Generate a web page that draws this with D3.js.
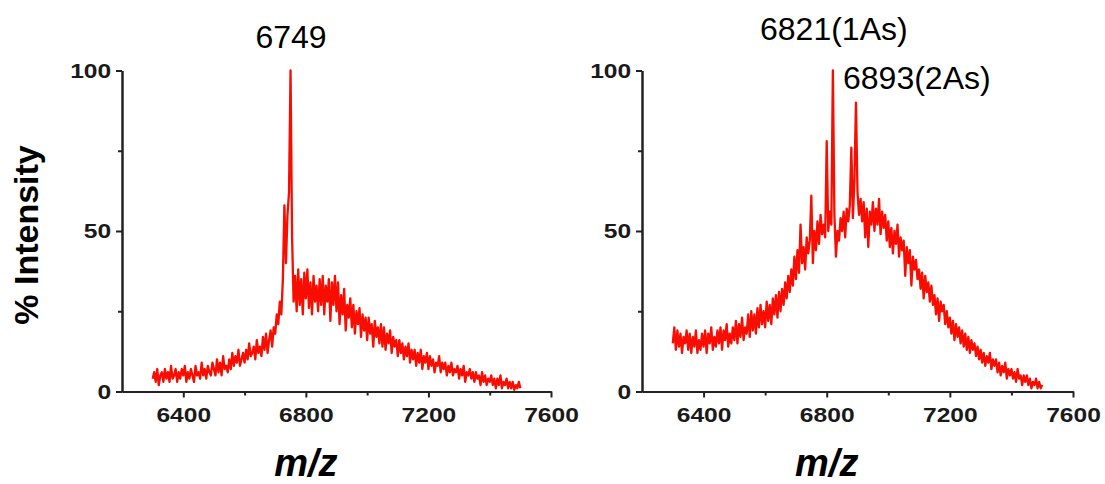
<!DOCTYPE html>
<html><head><meta charset="utf-8">
<script src="https://cdn.jsdelivr.net/npm/d3@7"></script>
<style>
body{margin:0;background:#fff;}
svg{display:block;}
.tick text{font-family:"Liberation Sans",Arial,sans-serif;font-weight:bold;font-size:20.5px;fill:#1a1a1a;}
</style></head>
<body>
<svg id="chart" width="1105" height="484"></svg>
<script>
// m/z grid: 6300..7500 step 5
const mzStart = 6300, mzEnd = 7500, mzStep = 5;
const mz = d3.range(mzStart, mzEnd + 1, mzStep);

// Left spectrum (% intensity)
const leftIntensity = [
 4,6,3,7,2,5,6,3,7,4,
 6,3,8,4,5,7,3,6,4,7,
 5,8,3,6,4,7,5,3,8,5,
 6,4,9,5,7,4,8,6,5,9,
 7,5,10,6,9,5,11,7,8,6,
 10,7,12,8,11,9,13,8,10,12,
 9,13,10,15,11,12,14,10,16,12,
 14,11,17,13,18,12,16,19,14,20,
 18,24,21,28,24,35,58,40,55,62,
 100,48,28,36,25,38,27,35,24,37,
 29,38,26,34,24,36,28,33,25,35,
 27,36,24,33,28,35,22,34,27,36,
 25,34,21,30,24,32,19,27,23,29,
 20,27,18,25,21,26,17,24,19,23,
 16,23,18,21,14,22,17,20,15,21,
 14,20,13,18,15,19,12,17,14,16,
 11,16,12,15,10,14,11,15,9,13,
 10,13,8,12,9,13,7,11,9,12,
 7,11,8,10,6,9,8,11,6,9,
 7,9,5,8,6,9,5,7,6,8,
 4,7,5,8,3,6,5,7,4,6,
 3,6,4,5,2,6,3,5,2,4,
 3,5,2,4,1,4,2,5,1,3,
 2,4,1,3,1,3,0.5,2,1,3,
 1
];

// Right spectrum (% intensity)
const rightIntensity = [
 15,20,13,19,14,18,12,17,15,19,
 13,18,12,17,14,19,12,16,13,18,
 14,19,12,18,15,20,13,17,14,19,
 15,20,13,19,16,21,14,18,15,20,
 16,22,15,21,17,23,16,20,18,24,
 17,25,19,24,18,26,20,27,21,25,
 20,28,22,27,21,29,24,30,23,31,
 25,32,27,34,29,36,31,38,33,42,
 35,44,37,52,40,45,38,48,43,47,
 61,40,50,44,53,46,55,49,52,48,
 78,50,56,52,100,55,42,50,47,54,
 50,56,48,57,53,58,76,54,66,90,
 62,55,60,53,59,48,57,45,56,52,
 59,50,57,52,60,49,56,51,55,47,
 53,45,51,43,50,46,52,42,48,44,
 47,36,45,40,44,33,42,38,41,35,
 38,32,37,29,36,31,34,28,33,27,
 30,24,29,22,28,25,27,21,25,20,
 23,18,22,16,21,17,20,15,19,14,
 18,13,17,12,16,13,15,11,14,10,
 13,9,12,8,11,9,12,7,10,8,
 10,6,9,5,8,6,9,4,7,5,
 7,4,6,3,7,4,5,2,5,3,
 5,2,4,1,3,2,4,1,3,1,
 2
];

const xMajorTicks = [6400, 6800, 7200, 7600];
const xMinorTicks = [6600, 7000, 7400];
const yMajorTicks = [0, 50, 100];
const yMinorTicks = [25, 75];

const peakLabels = [
  {panel: 0, text: "6749", x: 291, y: 48, anchor: "middle"},
  {panel: 1, text: "6821(1As)", x: 760, y: 40, anchor: "start"},
  {panel: 1, text: "6893(2As)", x: 843, y: 89, anchor: "start"}
];

const svg = d3.select("#chart");

const panels = [
  {data: leftIntensity, x0: 122, x1: 551},
  {data: rightIntensity, x0: 642, x1: 1073}
];
const yTop = 70.5, yBot = 391.5;

panels.forEach((p, i) => {
  const x = d3.scaleLinear().domain([6200, 7600]).range([p.x0, p.x1]);
  const y = d3.scaleLinear().domain([0, 100]).range([yBot, yTop]);
  const g = svg.append("g");

  // data line
  const line = d3.line().x((d, k) => x(mz[k])).y(d => y(d));
  g.append("path").datum(p.data)
    .attr("d", line)
    .attr("fill", "none")
    .attr("stroke", "#f80d00")
    .attr("stroke-width", 2.3)
    .attr("stroke-linejoin", "round");

  // x axis
  g.append("g").attr("class", "xax").attr("transform", `translate(0,${yBot})`)
    .call(d3.axisBottom(x).tickValues(xMajorTicks).tickSize(6).tickSizeOuter(0).tickPadding(10).tickFormat(d3.format("d")));
  g.append("g").attr("transform", `translate(0,${yBot})`)
    .call(d3.axisBottom(x).tickValues(xMinorTicks).tickSize(4).tickSizeOuter(0).tickFormat(""));
  // y axis
  g.append("g").attr("class", "yax").attr("transform", `translate(${p.x0},0)`)
    .call(d3.axisLeft(y).tickValues(yMajorTicks).tickSize(6).tickSizeOuter(0).tickPadding(3).tickFormat(d3.format("d")));
  g.append("g").attr("transform", `translate(${p.x0},0)`)
    .call(d3.axisLeft(y).tickValues(yMinorTicks).tickSize(4).tickSizeOuter(0).tickFormat(""));

  g.selectAll(".tick text").attr("transform", "scale(1.2,1)");
  g.selectAll(".domain").attr("stroke", "#222").attr("stroke-width", 2);
  g.selectAll(".tick line").attr("stroke", "#222").attr("stroke-width", 2);

  // x axis title
  g.append("text")
    .attr("x", x(6800)).attr("y", 476)
    .attr("text-anchor", "middle")
    .style("font-family", "'Liberation Sans', Arial, sans-serif")
    .style("font-weight", "bold").style("font-style", "italic")
    .style("font-size", "38px").attr("fill", "#000")
    .text("m/z");
});

// y axis title
svg.append("text")
  .attr("transform", "translate(38,235) rotate(-90)")
  .attr("text-anchor", "middle")
  .style("font-family", "'Liberation Sans', Arial, sans-serif")
  .style("font-weight", "bold").style("font-size", "34px").attr("fill", "#000")
  .text("% Intensity");

// peak labels
svg.selectAll("text.peak").data(peakLabels).enter().append("text")
  .attr("class", "peak")
  .attr("x", d => d.x).attr("y", d => d.y)
  .attr("text-anchor", d => d.anchor)
  .style("font-family", "'Liberation Sans', Arial, sans-serif")
  .style("font-size", "32px").attr("fill", "#000")
  .text(d => d.text);
</script>
</body></html>
